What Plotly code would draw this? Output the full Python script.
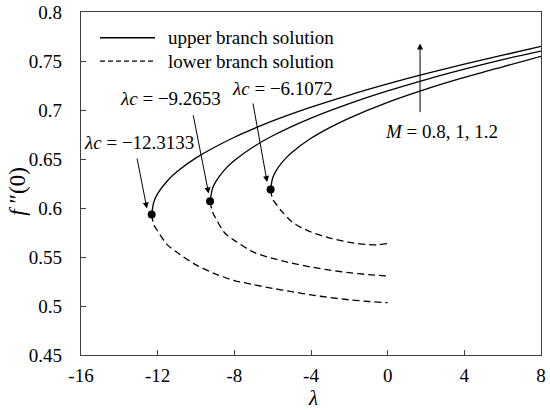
import plotly.graph_objects as go

# ---- data ----
M_labels = ["M=1.2", "M=1", "M=0.8"]
lam_c = [-12.3133, -9.2653, -6.1072]
f_c = [0.5933, 0.6068, 0.6188]

upper_lam_12 = [-12.3133, -12.2, -12.0, -11.5, -11, -10, -8, -6, -4, -2, 0, 2, 4, 6, 8]
upper_f_12 = [0.5933, 0.6061, 0.6146, 0.6276, 0.6369, 0.6511, 0.6722, 0.6888, 0.7029, 0.7153, 0.7266, 0.7371, 0.7468, 0.7559, 0.7650]
lower_lam_12 = [-12.3133, -12.2, -12.0, -11.5, -11, -10, -9, -8, -7, -6, -5, -4, -3, -2, -1, 0]
lower_f_12 = [0.5933, 0.5830, 0.5765, 0.5626, 0.5548, 0.5420, 0.5328, 0.5260, 0.5218, 0.5180, 0.5146, 0.5114, 0.5086, 0.5063, 0.5046, 0.5034]

upper_lam_10 = [-9.2653, -9.15, -9.0, -8.5, -8, -7, -6, -4, -2, 0, 2, 4, 6, 8]
upper_f_10 = [0.6068, 0.6193, 0.6259, 0.6392, 0.6484, 0.6625, 0.6737, 0.6917, 0.7065, 0.7194, 0.7310, 0.7416, 0.7514, 0.7600]
lower_lam_10 = [-9.2653, -9.15, -9.0, -8.5, -8, -7, -6, -5, -4, -3, -2, -1, 0]
lower_f_10 = [0.6068, 0.5966, 0.5905, 0.5745, 0.5670, 0.5550, 0.5485, 0.5437, 0.5398, 0.5365, 0.5340, 0.5320, 0.5306]

upper_lam_08 = [-6.1072, -6.0, -5.8, -5.3, -5, -4, -3, -2, 0, 2, 4, 6, 8]
upper_f_08 = [0.6188, 0.6306, 0.6387, 0.6511, 0.6567, 0.6711, 0.6823, 0.6918, 0.7078, 0.7213, 0.7332, 0.7441, 0.7548]
lower_lam_08 = [-6.1072, -6.0, -5.8, -5.5, -5, -4.5, -4, -3, -2, -1, -0.5, 0]
lower_f_08 = [0.6188, 0.6090, 0.6035, 0.5960, 0.5860, 0.5800, 0.5755, 0.5692, 0.5650, 0.5626, 0.5624, 0.5637]

x_ticks = [-16, -12, -8, -4, 0, 4, 8]
x_ticktext = ["-16", "-12", "-8", "-4", "0", "4", "8"]
y_ticks = [0.45, 0.5, 0.55, 0.6, 0.65, 0.7, 0.75, 0.8]
y_ticktext = ["0.45", "0.5", "0.55", "0.6", "0.65", "0.7", "0.75", "0.8"]

FONT = "Liberation Serif"
fig = go.Figure()

uppers = [(upper_lam_12, upper_f_12), (upper_lam_10, upper_f_10), (upper_lam_08, upper_f_08)]
lowers = [(lower_lam_12, lower_f_12), (lower_lam_10, lower_f_10), (lower_lam_08, lower_f_08)]
for (ux, uy), (lx, ly), name in zip(uppers, lowers, M_labels):
    fig.add_trace(go.Scatter(x=ux, y=uy, mode="lines", name=name + " upper",
                             line=dict(color="black", width=1.3, shape="spline", smoothing=0.8),
                             showlegend=False))
    fig.add_trace(go.Scatter(x=lx, y=ly, mode="lines", name=name + " lower",
                             line=dict(color="black", width=1.3, dash="7px,4px", shape="spline", smoothing=0.8),
                             showlegend=False))

fig.add_trace(go.Scatter(x=lam_c, y=f_c, mode="markers", showlegend=False,
                         marker=dict(color="black", size=8)))

# legend drawn manually
fig.add_shape(type="line", xref="paper", yref="paper", x0=0.0413, x1=0.1609, y0=0.925, y1=0.925,
              line=dict(color="black", width=1.3))
fig.add_shape(type="line", xref="paper", yref="paper", x0=0.0413, x1=0.1609, y0=0.857, y1=0.857,
              line=dict(color="black", width=1.3, dash="5px,3px"))
fig.add_annotation(xref="paper", yref="paper", x=0.184, y=0.925, text="upper branch solution",
                   showarrow=False, xanchor="left", yanchor="middle", font=dict(size=19, family=FONT, color="black"))
fig.add_annotation(xref="paper", yref="paper", x=0.184, y=0.857, text="lower branch solution",
                   showarrow=False, xanchor="left", yanchor="middle", font=dict(size=19, family=FONT, color="black"))

# labelled arrows
labels = [
    ("<i>λc</i> = −12.3133", -12.97, 0.667, -12.56, 0.5994, -13.09, 0.652),
    ("<i>λc</i> = −9.2653", -11.35, 0.7116, -9.34, 0.6147, -10.16, 0.6963),
    ("<i>λc</i> = −6.1072", -5.51, 0.7218, -6.29, 0.6265, -7.04, 0.7082),
    ("<i>M</i> = 0.8, 1, 1.2", 2.82, 0.6776, 1.69, 0.7678, 1.69, 0.6963),
]
for txt, tx, ty, hx, hy, sx, sy in labels:
    fig.add_annotation(x=tx, y=ty, text=txt, showarrow=False,
                       font=dict(size=19, family=FONT, color="black"))
    fig.add_annotation(x=hx, y=hy, ax=sx, ay=sy, axref="x", ayref="y", text="",
                       showarrow=True, arrowhead=2, arrowsize=1.2, arrowwidth=1, arrowcolor="black")

# axis titles
fig.add_annotation(xref="paper", yref="paper", x=0.505, y=-0.125, text="<i>λ</i>", showarrow=False,
                   xanchor="center", yanchor="middle", font=dict(size=21, family=FONT, color="black"))
fig.add_annotation(xref="paper", yref="paper", x=-0.14, y=0.478, text="<i>f</i> ″(0)", showarrow=False,
                   textangle=-90, xanchor="center", yanchor="middle",
                   font=dict(size=23, family=FONT, color="black"))

axis_common = dict(showline=True, linecolor="#404040", linewidth=1.3, mirror=True, automargin=False,
                   ticks="inside", ticklen=5, tickcolor="#404040", showgrid=False, zeroline=False,
                   tickfont=dict(size=19, family=FONT, color="black"))
fig.update_xaxes(range=[-16, 8], tickvals=x_ticks, ticktext=x_ticktext, ticklabelstandoff=3, **axis_common)
fig.update_yaxes(range=[0.45, 0.8], tickvals=y_ticks, ticktext=y_ticktext, ticklabelstandoff=14, **axis_common)
fig.update_layout(template="none", width=550, height=410, margin=dict(l=81, r=9, t=12, b=55),
                  plot_bgcolor="white", paper_bgcolor="white",
                  font=dict(family=FONT, color="black"))
fig.write_html("out.html", post_script="document.body.style.margin='0';",
               config={"displayModeBar": False})
